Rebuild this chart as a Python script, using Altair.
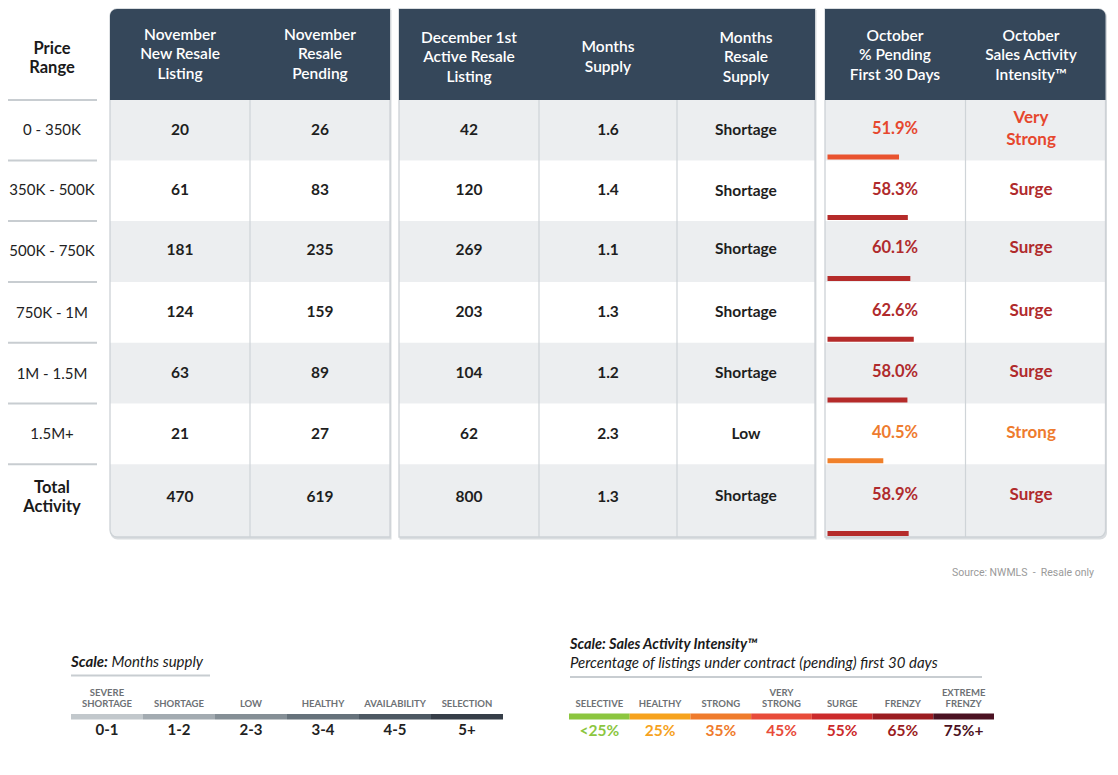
import altair as alt
import pandas as pd

# ---------------- data ----------------
price_ranges = ["0 - 350K", "350K - 500K", "500K - 750K", "750K - 1M", "1M - 1.5M", "1.5M+", "Total\nActivity"]
new_listings = [20, 61, 181, 124, 63, 21, 470]
resale_pending = [26, 83, 235, 159, 89, 27, 619]
active_listings = [42, 120, 269, 203, 104, 62, 800]
months_supply = [1.6, 1.4, 1.1, 1.3, 1.2, 2.3, 1.3]
supply_status = ["Shortage", "Shortage", "Shortage", "Shortage", "Shortage", "Low", "Shortage"]
pct_pending = [51.9, 58.3, 60.1, 62.6, 58.0, 40.5, 58.9]
intensity = ["Very\nStrong", "Surge", "Surge", "Surge", "Surge", "Strong", "Surge"]

headers = ["November\nNew Resale\nListing", "November\nResale\nPending",
           "December 1st\nActive Resale\nListing", "Months\nSupply", "Months\nResale\nSupply",
           "October\n% Pending\nFirst 30 Days", "October\nSales Activity\nIntensity™"]

intensity_levels = ["Very\nStrong", "Surge", "Strong"]
intensity_text_colors = ["#e6472e", "#b02a2c", "#ee7b2e"]
intensity_bar_colors = ["#e9532f", "#b52b2a", "#f0802a"]

supply_scale_names = ["SEVERE\nSHORTAGE", "SHORTAGE", "LOW", "HEALTHY", "AVAILABILITY", "SELECTION"]
supply_scale_ranges = ["0-1", "1-2", "2-3", "3-4", "4-5", "5+"]
supply_scale_colors = ["#c2c8cc", "#a3abb1", "#858f96", "#66727b", "#4d5963", "#363e48"]

intensity_scale_names = ["SELECTIVE", "HEALTHY", "STRONG", "VERY\nSTRONG", "SURGE", "FRENZY", "EXTREME\nFRENZY"]
intensity_scale_thresholds = ["<25%", "25%", "35%", "45%", "55%", "65%", "75%+"]
intensity_scale_colors = ["#8cc63f", "#f6a21d", "#ef7b2c", "#e84b3a", "#cc2a2b", "#9b1c21", "#4b1222"]

# ---------------- layout ----------------
W, H, OFF = 1102, 759, 8
FONT = "Lato"
TOP, HB, BOT = 9, 100, 537
ROW_B = [100, 160.5, 221, 282, 342.7, 403.5, 464.3, 537]
TEXT_Y = [130, 190, 250, 312, 373, 434, 497]
PCT_Y = [129, 190, 248, 311, 372, 433, 495]
LABEL_Y = [130, 190, 251, 313, 374, 434, 497.5]
PANELS = [(110, 390), (399, 815), (825, 1105.5)]
COL_X = [180, 320, 469, 608, 746, 895, 1031]
HEAD_Y = [54, 54, 57, 57, 57, 55, 55]
LEFT_X = 52


def first_line(center, s, lh):
    """y of the first line so that a multi-line block is centred on `center`."""
    return center - s.count("\n") * lh / 2.0


def XQ(field):
    return alt.X(f"{field}:Q", scale=alt.Scale(domain=[OFF, OFF + W], range=[0, W], nice=False, zero=False), axis=None)


def YQ(field):
    return alt.Y(f"{field}:Q", scale=alt.Scale(domain=[OFF, OFF + H], range=[0, H], nice=False, zero=False), axis=None)


def rect(df, **mk):
    return alt.Chart(df).mark_rect(**mk).encode(x=XQ("x"), x2="x2:Q", y=YQ("y"), y2="y2:Q")


def box(x, x2, y, y2, **mk):
    return rect(pd.DataFrame({"x": [x], "x2": [x2], "y": [y], "y2": [y2]}), **mk)


def text(df, color=None, **mk):
    enc = dict(x=XQ("x"), y=YQ("y"), text="t:N")
    if color is not None:
        enc["color"] = color
    base = dict(font=FONT, lineBreak="\n", align="center", baseline="middle")
    base.update(mk)
    return alt.Chart(df).mark_text(**base).encode(**enc)


layers = []

corner_sets = [dict(cornerRadiusTopLeft=7, cornerRadiusBottomLeft=7), {},
               dict(cornerRadiusTopRight=7, cornerRadiusBottomRight=7)]
head_corners = [dict(cornerRadiusTopLeft=7), {}, dict(cornerRadiusTopRight=7)]

# panel shadows & backgrounds
for (l, r), cs in zip(PANELS, corner_sets):
    layers.append(box(l + 0.5, r + 1.5, TOP + 1, BOT + 2.5, fill="#dadde0", **cs))
for (l, r), cs in zip(PANELS, corner_sets):
    layers.append(box(l, r, TOP, BOT, fill="#eceef0", **cs))

# white alternating rows
wr = []
for (l, r) in PANELS:
    for i in (1, 3, 5):
        wr.append({"x": l, "x2": r, "y": ROW_B[i], "y2": ROW_B[i + 1]})
layers.append(rect(pd.DataFrame(wr), fill="#ffffff"))

# vertical dividers
div_x = [250, 539, 677, 965.5]
layers.append(alt.Chart(pd.DataFrame({"x": div_x, "y": [HB] * 4, "y2": [BOT] * 4}))
              .mark_rule(stroke="#cfd4d8", strokeWidth=1.2)
              .encode(x=XQ("x"), y=YQ("y"), y2="y2:Q"))

# panel borders
for (l, r), cs in zip(PANELS, corner_sets):
    layers.append(box(l, r, TOP, BOT, fillOpacity=0, stroke="#cdd2d6", strokeWidth=1.3, **cs))

# header blocks
for (l, r), cs in zip(PANELS, head_corners):
    layers.append(box(l, r, TOP, HB, fill="#35475a", **cs))

# left separators
layers.append(alt.Chart(pd.DataFrame({"x": [7] * 7, "x2": [97] * 7, "y": ROW_B[:7]}))
              .mark_rule(stroke="#c8cdd1", strokeWidth=2)
              .encode(x=XQ("x"), x2="x2:Q", y=YQ("y")))

# header text
HLH = 19.5
layers.append(text(pd.DataFrame({"x": COL_X, "y": [first_line(c, s, HLH) for c, s in zip(HEAD_Y, headers)],
                                 "t": headers}),
                   fill="#ffffff", fontSize=15.5, fontWeight=600, lineHeight=HLH))
layers.append(text(pd.DataFrame({"x": [LEFT_X], "y": [first_line(58.5, "Price\nRange", HLH)], "t": ["Price\nRange"]}),
                   fill="#1a1a1a", fontSize=16.5, fontWeight=700, lineHeight=HLH))

# row labels
layers.append(text(pd.DataFrame({"x": [LEFT_X] * 6, "y": LABEL_Y[:6], "t": price_ranges[:6]}),
                   fill="#222222", fontSize=15, fontWeight=400))
layers.append(text(pd.DataFrame({"x": [LEFT_X], "y": [first_line(LABEL_Y[6], price_ranges[6], HLH)],
                                 "t": [price_ranges[6]]}),
                   fill="#1a1a1a", fontSize=16.5, fontWeight=700, lineHeight=HLH))

# numeric cells
cells = []
for c, vals in enumerate([new_listings, resale_pending, active_listings,
                          [f"{v:.1f}" for v in months_supply], supply_status]):
    for i, v in enumerate(vals):
        y = TEXT_Y[i] if c < 4 else PCT_Y[i] + 1
        cells.append({"x": COL_X[c], "y": y, "t": str(v)})
layers.append(text(pd.DataFrame(cells), fill="#1e1e1e", fontSize=15.5, fontWeight=700))

# pending % and intensity
ILH = 22
int_text_color = alt.Color("cat:N", scale=alt.Scale(domain=intensity_levels, range=intensity_text_colors), legend=None)
pct_df = pd.DataFrame({"x": [COL_X[5]] * 7, "y": PCT_Y, "t": [f"{v:.1f}%" for v in pct_pending], "cat": intensity})
layers.append(text(pct_df, color=int_text_color, fontSize=16.5, fontWeight=700))
int_df = pd.DataFrame({"x": [COL_X[6]] * 7, "y": [first_line(c, s, ILH) for c, s in zip(PCT_Y, intensity)],
                       "t": intensity, "cat": intensity})
layers.append(text(int_df, color=int_text_color, fontSize=17, fontWeight=700, lineHeight=ILH))

# pending % bars (length from value through its own scale)
bar_df = pd.DataFrame({"pct": pct_pending, "cat": intensity,
                       "y": [b - 6 for b in ROW_B[1:]], "y2": [b - 1 for b in ROW_B[1:]]})
layers.append(alt.Chart(bar_df).mark_rect().encode(
    x=alt.X("pct:Q", scale=alt.Scale(domain=[0, 100], range=[827.5 - OFF, 965.3 - OFF], nice=False, zero=True), axis=None),
    x2=alt.X2(datum=0),
    y=YQ("y"), y2="y2:Q",
    color=alt.Color("cat:N", scale=alt.Scale(domain=intensity_levels, range=intensity_bar_colors), legend=None)))

# source note
layers.append(text(pd.DataFrame({"x": [1094], "y": [573], "t": ["Source: NWMLS\u00a0\u00a0-\u00a0\u00a0Resale only"]}),
                   font="Roboto", align="right", fill="#9a9a9a", fontSize=10.5))

# ---------- legend 1: months supply ----------
layers.append(text(pd.DataFrame({"x": [71], "y": [662], "t": ["Scale:"]}),
                   align="left", fill="#1a1a1a", fontSize=15, fontWeight=700, fontStyle="italic"))
layers.append(text(pd.DataFrame({"x": [111.5], "y": [662], "t": ["Months supply"]}),
                   align="left", fill="#1a1a1a", fontSize=15, fontStyle="italic"))
layers.append(alt.Chart(pd.DataFrame({"x": [71], "x2": [210], "y": [675.5]}))
              .mark_rule(stroke="#c8cdd1", strokeWidth=2).encode(x=XQ("x"), x2="x2:Q", y=YQ("y")))

LLH = 11.5
band1 = alt.Scale(domain=supply_scale_names, range=[71 - OFF, 503 - OFF], paddingInner=0, paddingOuter=0)
leg1 = pd.DataFrame({"name": supply_scale_names, "rng": supply_scale_ranges, "col": supply_scale_colors,
                     "y": 714, "y2": 719.5, "ly": [707 - s.count("\n") * LLH for s in supply_scale_names],
                     "ry": 729.5})
layers.append(alt.Chart(leg1).mark_rect().encode(
    x=alt.X("name:N", scale=band1, axis=None), y=YQ("y"), y2="y2:Q",
    color=alt.Color("col:N", scale=None)))
layers.append(alt.Chart(leg1).mark_text(font=FONT, lineBreak="\n", fontSize=9.5, fontWeight=700,
                                        fill="#6d7175", baseline="alphabetic", lineHeight=LLH).encode(
    x=alt.X("name:N", scale=band1, axis=None), y=YQ("ly"), text="name:N"))
layers.append(alt.Chart(leg1).mark_text(font=FONT, fontSize=15, fontWeight=700, fill="#222222",
                                        baseline="middle").encode(
    x=alt.X("name:N", scale=band1, axis=None), y=YQ("ry"), text="rng:N"))

# ---------- legend 2: sales activity intensity ----------
layers.append(text(pd.DataFrame({"x": [570], "y": [645], "t": ["Scale: Sales Activity Intensity™"]}),
                   align="left", fill="#1a1a1a", fontSize=14.5, fontWeight=700, fontStyle="italic"))
layers.append(text(pd.DataFrame({"x": [570], "y": [663], "t": ["Percentage of listings under contract (pending) first 30 days"]}),
                   align="left", fill="#1a1a1a", fontSize=15, fontStyle="italic"))
layers.append(alt.Chart(pd.DataFrame({"x": [570], "x2": [982], "y": [677]}))
              .mark_rule(stroke="#c8cdd1", strokeWidth=2).encode(x=XQ("x"), x2="x2:Q", y=YQ("y")))

band2 = alt.Scale(domain=intensity_scale_names, range=[569 - OFF, 994 - OFF], paddingInner=0, paddingOuter=0)
leg2 = pd.DataFrame({"name": intensity_scale_names, "thr": intensity_scale_thresholds, "col": intensity_scale_colors,
                     "y": 713.5, "y2": 719.5, "ly": [707 - s.count("\n") * LLH for s in intensity_scale_names],
                     "ry": 730.5})
layers.append(alt.Chart(leg2).mark_rect().encode(
    x=alt.X("name:N", scale=band2, axis=None), y=YQ("y"), y2="y2:Q",
    color=alt.Color("col:N", scale=None)))
layers.append(alt.Chart(leg2).mark_text(font=FONT, lineBreak="\n", fontSize=9.5, fontWeight=700,
                                        fill="#6d7175", baseline="alphabetic", lineHeight=LLH).encode(
    x=alt.X("name:N", scale=band2, axis=None), y=YQ("ly"), text="name:N"))
layers.append(alt.Chart(leg2).mark_text(font=FONT, fontSize=15.5, fontWeight=700,
                                        baseline="middle").encode(
    x=alt.X("name:N", scale=band2, axis=None), y=YQ("ry"), text="thr:N",
    color=alt.Color("col:N", scale=None)))

chart = (alt.layer(*layers)
         .resolve_scale(x="independent", color="independent")
         .properties(width=W, height=H, padding=0, autosize=alt.AutoSizeParams(type="none"),
                     background="#ffffff")
         .configure_view(stroke=None))

chart.save("out.html", embed_options={"renderer": "svg", "actions": False})
